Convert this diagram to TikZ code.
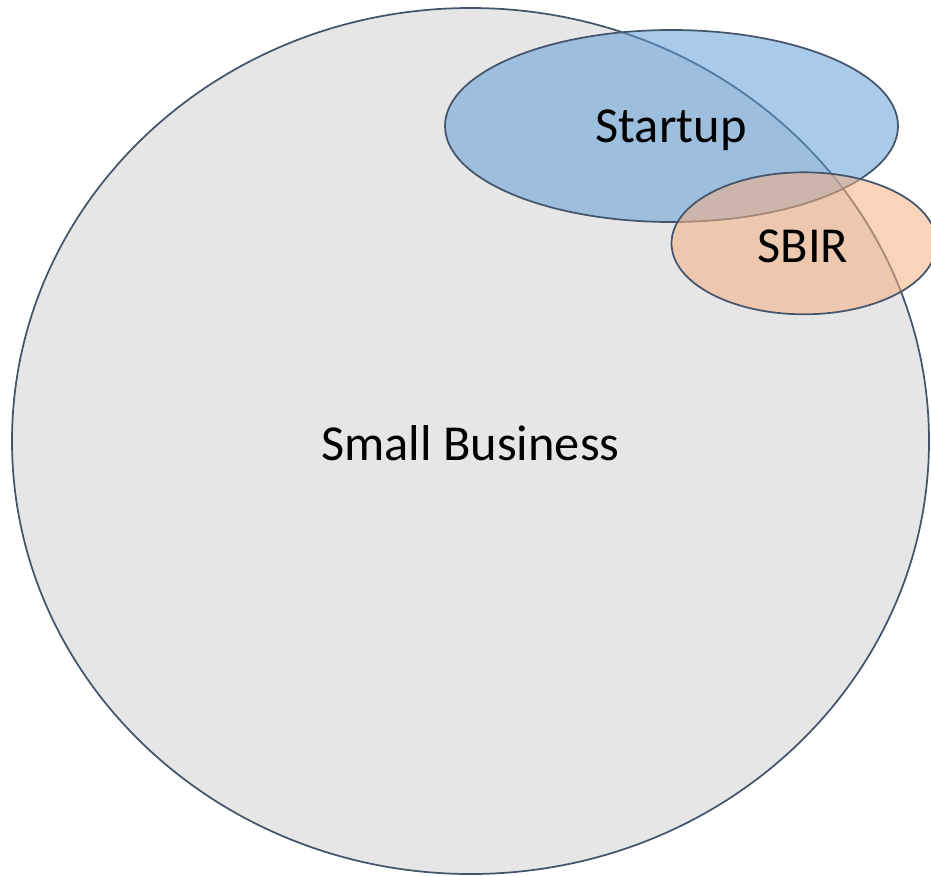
\documentclass[tikz,border=0pt]{standalone}
\usepackage{fontspec}
\setmainfont{Carlito}
\definecolor{edge}{HTML}{44546A}
\definecolor{bigfill}{HTML}{E6E6E6}
\definecolor{startfill}{HTML}{5B9BD5}
\definecolor{sbirfill}{HTML}{F4B183}
\tikzset{
  setshape/.style={ellipse, draw=edge, line width=1.3pt, inner sep=0pt},
  lbl/.style={font=\fontsize{37.8}{42}\selectfont, text=black}
}
\usetikzlibrary{shapes.geometric}
\begin{document}
\begin{tikzpicture}[x=0.75pt,y=-0.75pt]
\useasboundingbox (0,0) rectangle (931,875);
\clip (0,0) rectangle (931,875);
\node[setshape, fill=bigfill, minimum width=917*0.75pt, minimum height=866*0.75pt] (small) at (470.5,441) {};
\node[setshape, fill=startfill, fill opacity=0.52, minimum width=453*0.75pt, minimum height=192*0.75pt] (startup) at (671.5,126) {};
\node[setshape, fill=sbirfill, fill opacity=0.55, minimum width=265*0.75pt, minimum height=142*0.75pt] (sbir) at (804,243.3) {};
\node[lbl] (smalllbl) at (470.5,443) {Small Business};
\node[lbl] (startuplbl) at (671,130) {Startup};
\node[lbl] (sbirlbl) at (803,246) {SBIR};
\end{tikzpicture}
\end{document}
